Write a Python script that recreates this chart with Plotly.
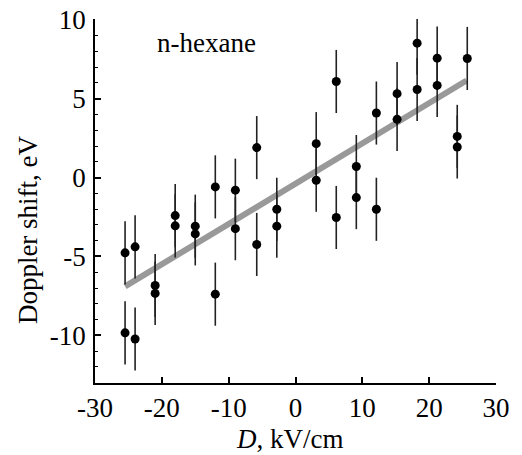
import plotly.graph_objects as go

# Data
field_kv_cm = [-25.5, -25.5, -24, -24, -21, -21, -18, -18, -15, -15,
               -12, -12, -9, -9, -5.8, -5.8, -2.8, -2.8, 3.1, 3.1,
               6.1, 6.1, 9.1, 9.1, 12.1, 12.1, 15.2, 15.2, 18.2, 18.2,
               21.2, 21.2, 24.2, 24.2, 25.7]
doppler_ev = [-4.77, -9.84, -4.39, -10.23, -6.84, -7.34, -2.41, -3.06, -3.08, -3.57,
              -0.59, -7.39, -0.80, -3.24, 1.90, -4.24, -2.01, -3.08, 2.15, -0.17,
              6.09, -2.53, 0.70, -1.27, 4.09, -2.01, 5.32, 3.69, 8.52, 5.58,
              7.57, 5.84, 2.61, 1.94, 7.55]
doppler_err = [2.0] * len(doppler_ev)

fit_x = [-25.5, 25.6]
fit_y = [-6.9, 6.15]

x_ticks = [-30, -20, -10, 0, 10, 20, 30]
y_ticks = [-10, -5, 0, 5, 10]

FONT = "Liberation Serif, Times New Roman, serif"

fig = go.Figure()
fig.add_trace(go.Scatter(
    x=fit_x, y=fit_y, mode="lines",
    line=dict(color="#999999", width=6),
    showlegend=False, hoverinfo="skip"))
fig.add_trace(go.Scatter(
    x=field_kv_cm, y=doppler_ev, mode="markers",
    marker=dict(color="black", size=9),
    error_y=dict(type="data", array=doppler_err, visible=True,
                 color="#222222", thickness=1.6, width=0),
    showlegend=False))

fig.add_annotation(x=-13.3, y=8.5, xref="x", yref="y", text="n-hexane",
                   showarrow=False, font=dict(family=FONT, size=27, color="black"))
fig.add_annotation(x=0, y=0.42, xref="paper", yref="paper", xanchor="center", yanchor="middle",
                   xshift=-67, text="Doppler shift, eV", textangle=-90, showarrow=False,
                   font=dict(family=FONT, size=27, color="black"))
fig.add_annotation(x=0.487, y=0, xref="paper", yref="paper", xanchor="center", yanchor="middle",
                   yshift=-56, text="<i>D</i>, kV/cm", showarrow=False,
                   font=dict(family=FONT, size=27, color="black"))

fig.update_layout(
    width=522, height=455,
    margin=dict(l=95, r=26, t=19, b=72, autoexpand=False),
    paper_bgcolor="white", plot_bgcolor="white",
    font=dict(family=FONT, size=27, color="black"),
    xaxis=dict(
        range=[-30, 30], tickvals=x_ticks, ticktext=[str(v) for v in x_ticks],
        ticks="inside", ticklen=6, tickwidth=1.5, tickcolor="black",
        showline=True, linecolor="black", linewidth=1.5, automargin=False,
        showgrid=False, zeroline=False, ticklabelstandoff=0,
        ticklabeloverflow="allow",
    ),
    yaxis=dict(
        range=[-13.02, 10.05], tickvals=y_ticks, ticktext=[str(v) for v in y_ticks],
        ticks="inside", ticklen=6, tickwidth=1.5, tickcolor="black",
        showline=True, linecolor="black", linewidth=1.5, automargin=False,
        showgrid=False, zeroline=False, ticklabelstandoff=2,
        ticklabeloverflow="allow",
        minor=dict(dtick=1, tick0=0, ticks="inside", ticklen=3.5,
                   tickwidth=1.2, tickcolor="black", showgrid=False),
    ),
)

fig.write_html("out.html",
               config={"displayModeBar": False},
               post_script="document.body.style.margin='0';document.body.style.overflow='hidden';")
